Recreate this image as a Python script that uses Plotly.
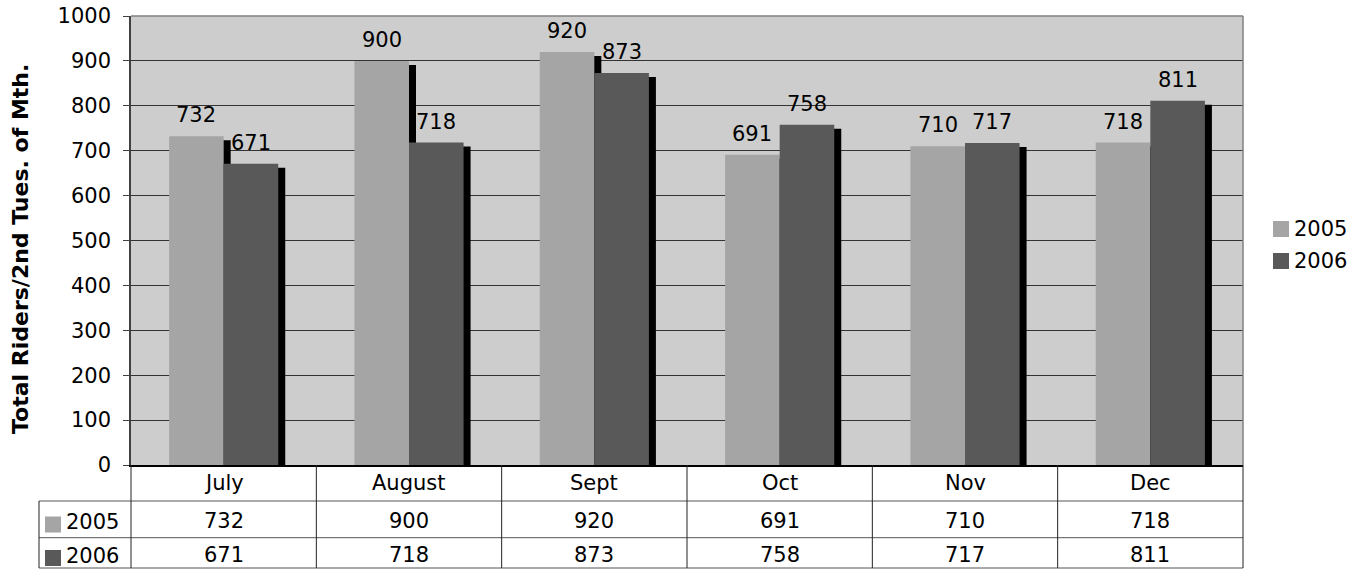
import plotly.graph_objects as go

# Monthly ridership counts (2nd Tuesday of each month)
months = ["July", "August", "Sept", "Oct", "Nov", "Dec"]
riders_2005 = [732, 900, 920, 691, 710, 718]
riders_2006 = [671, 718, 873, 758, 717, 811]
series_names = ["2005", "2006"]
y_ticks = [0, 100, 200, 300, 400, 500, 600, 700, 800, 900, 1000]

# Styling
FONT = "DejaVu Sans"
FS = 21
COL_2005 = "#A5A5A5"
COL_2006 = "#595959"
PLOT_BG = "#CDCDCD"
W, H = 1364, 569
ML, MR, MT, MB = 131, 121, 16, 104
PW = W - ML - MR
PH = H - MT - MB
Y_MAX = 1000

BAR_W = 0.2945          # bar width in category units
SHADOW_DX = 7 / (PW / len(months))   # 7 px to the right
SHADOW_DY = 4 * Y_MAX / PH           # 4 px lower

x_idx = list(range(len(months)))


def px_x(px):
    return (px - ML) / PW


def px_y(py):
    return (MT + PH - py) / PH


fig = go.Figure()

series = [(riders_2005, COL_2005, -BAR_W), (riders_2006, COL_2006, 0.0)]
for (vals, col, off), name in zip(series, series_names):
    # drop shadow behind each bar
    fig.add_trace(go.Bar(
        x=x_idx, y=[v - SHADOW_DY for v in vals], offset=off + SHADOW_DX, width=BAR_W,
        marker=dict(color="black", line=dict(width=0)), showlegend=False, hoverinfo="skip",
    ))
    fig.add_trace(go.Bar(
        x=x_idx, y=vals, offset=off, width=BAR_W, name=name,
        marker=dict(color=col, line=dict(width=0)), showlegend=False,
    ))

annotations = []
shapes = []

# value labels above bars
for (vals, col, off), name in zip(series, series_names):
    for i, v in enumerate(vals):
        annotations.append(dict(
            x=i + off + BAR_W / 2, y=v, xref="x", yref="y", text=str(v),
            showarrow=False, yanchor="bottom", yshift=7,
            font=dict(family=FONT, size=FS, color="black"),
        ))

# y-axis title
annotations.append(dict(
    x=px_x(20), y=px_y(249), xref="paper", yref="paper",
    text="<b>Total Riders/2nd Tues. of Mth.</b>", textangle=-90,
    showarrow=False, xanchor="center", yanchor="middle",
    font=dict(family=FONT, size=22, color="black"),
))

# plot-area border (top and right)
shapes.append(dict(type="line", xref="paper", yref="paper", x0=0, x1=1, y0=1, y1=1,
                   line=dict(color="#808080", width=1.5)))
shapes.append(dict(type="line", xref="paper", yref="paper", x0=1, x1=1, y0=0, y1=1,
                   line=dict(color="#808080", width=1.5)))

# data table below the chart
ROW1 = 501
ROW2 = 537.7
ROW_BOT = 568
LEFT_COL = 39
H_LINE = "#555555"
V_LINE = "#222222"

for yy in (ROW1, ROW2, ROW_BOT):
    shapes.append(dict(type="line", xref="paper", yref="paper",
                       x0=px_x(LEFT_COL), x1=1, y0=px_y(yy), y1=px_y(yy),
                       line=dict(color=H_LINE, width=1)))
# vertical separators
shapes.append(dict(type="line", xref="paper", yref="paper", x0=px_x(LEFT_COL), x1=px_x(LEFT_COL),
                   y0=px_y(ROW1), y1=px_y(ROW_BOT), line=dict(color=V_LINE, width=1)))
shapes.append(dict(type="line", xref="paper", yref="paper", x0=0, x1=0,
                   y0=0, y1=px_y(ROW_BOT), line=dict(color=V_LINE, width=1)))
shapes.append(dict(type="line", xref="paper", yref="paper", x0=1, x1=1,
                   y0=0, y1=px_y(ROW_BOT), line=dict(color=V_LINE, width=1)))
for k in range(1, len(months)):
    shapes.append(dict(type="line", xref="x", yref="paper", x0=k - 0.5, x1=k - 0.5,
                       y0=0, y1=px_y(ROW_BOT), line=dict(color=V_LINE, width=1)))

row_centers = [483, 521, 554.5]
for i, m in enumerate(months):
    annotations.append(dict(x=i, y=px_y(row_centers[0]), xref="x", yref="paper", text=m,
                            showarrow=False, yanchor="middle",
                            font=dict(family=FONT, size=FS, color="black")))
    annotations.append(dict(x=i, y=px_y(row_centers[1]), xref="x", yref="paper",
                            text=str(riders_2005[i]), showarrow=False, yanchor="middle",
                            font=dict(family=FONT, size=FS, color="black")))
    annotations.append(dict(x=i, y=px_y(row_centers[2]), xref="x", yref="paper",
                            text=str(riders_2006[i]), showarrow=False, yanchor="middle",
                            font=dict(family=FONT, size=FS, color="black")))

# legend keys inside the table rows
for name, col, yc in [(series_names[0], COL_2005, row_centers[1]),
                      (series_names[1], COL_2006, row_centers[2])]:
    shapes.append(dict(type="rect", xref="paper", yref="paper",
                       x0=px_x(45), x1=px_x(61), y0=px_y(yc + 3.5 - 8), y1=px_y(yc + 3.5 + 8),
                       fillcolor=col, line=dict(width=0)))
    annotations.append(dict(x=px_x(64), y=px_y(yc + 1), xref="paper", yref="paper", text=name,
                            showarrow=False, xanchor="left", yanchor="middle",
                            font=dict(family=FONT, size=FS, color="black")))

# legend at the right
for name, col, yc in [(series_names[0], COL_2005, 229), (series_names[1], COL_2006, 261)]:
    shapes.append(dict(type="rect", xref="paper", yref="paper",
                       x0=px_x(1273), x1=px_x(1289), y0=px_y(yc + 8), y1=px_y(yc - 8),
                       fillcolor=col, line=dict(width=0)))
    annotations.append(dict(x=px_x(1292), y=px_y(yc), xref="paper", yref="paper", text=name,
                            showarrow=False, xanchor="left", yanchor="middle",
                            font=dict(family=FONT, size=FS, color="black")))

fig.update_layout(
    width=W, height=H,
    margin=dict(l=ML, r=MR, t=MT, b=MB, autoexpand=False),
    paper_bgcolor="white",
    plot_bgcolor=PLOT_BG,
    barmode="overlay",
    showlegend=False,
    font=dict(family=FONT, size=FS, color="black"),
    xaxis=dict(range=[-0.5, len(months) - 0.5], showticklabels=False, showgrid=False,
               zeroline=False, showline=True, linecolor="black", linewidth=1.5, ticks="",
               automargin=False),
    yaxis=dict(range=[0, Y_MAX], tickvals=y_ticks, showgrid=True, gridcolor="#333333",
               gridwidth=1, zeroline=False, showline=True, linecolor="#404040", linewidth=1.5,
               ticks="outside", ticklen=6, tickcolor="#404040", ticklabelstandoff=8,
               tickfont=dict(family=FONT, size=FS, color="black"), automargin=False),
    annotations=annotations,
    shapes=shapes,
)

fig.write_html("out.html")
